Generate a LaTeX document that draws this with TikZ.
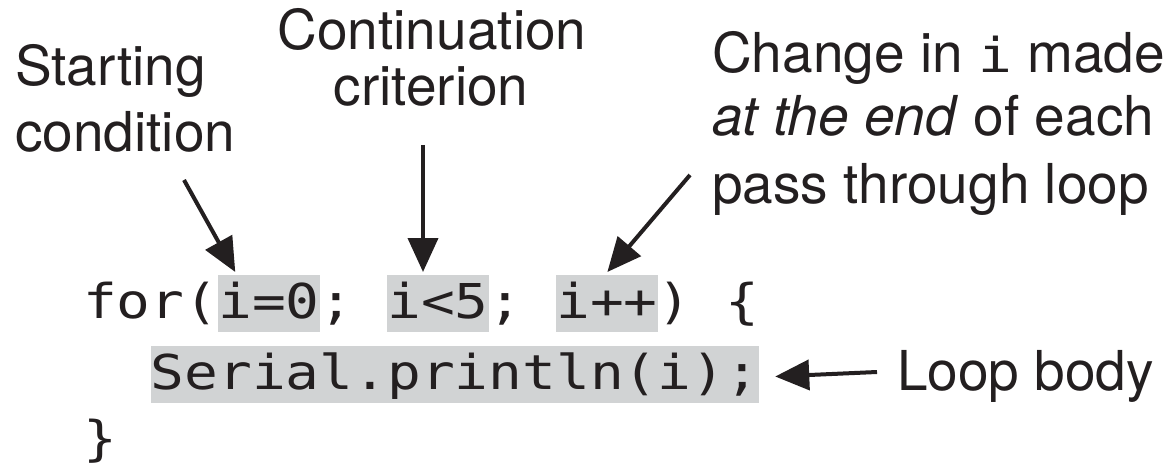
\documentclass[tikz,border=0pt]{standalone}
\usepackage{fontspec}
\setmainfont{TeX Gyre Heros}
\newfontfamily\codefont[FakeStretch=1.17]{DejaVu Sans Mono}
\usetikzlibrary{arrows.meta,calc}
\definecolor{hlgray}{HTML}{D1D3D4}
\definecolor{ink}{HTML}{231F20}
\newcommand{\monosp}{\phantom{x}}
\begin{document}
\begin{tikzpicture}[x=1pt,y=-1pt,
  code/.style={font=\codefont\fontsize{48}{48}\selectfont, text=ink, inner sep=0pt, outer sep=0pt,
    text height=43pt, text depth=14pt, anchor=base west},
  hl/.style={code, fill=hlgray},
  lab/.style={font=\fontsize{55}{60}\selectfont, text=ink, inner sep=0pt, anchor=base west},
  labc/.style={lab, anchor=base},
  arr/.style={draw=ink, line width=4pt, -{Triangle[length=34pt,width=30pt]}}]
\useasboundingbox (0,0) rectangle (1174,465);
% code
\node[code] (f1) at (83,318) {for(};
\node[hl] (h1) at (f1.base east) {i=0};
\node[code] (s1) at (h1.base east) {;\monosp};
\node[hl] (h2) at (s1.base east) {i<5};
\node[code] (s2) at (h2.base east) {;\monosp};
\node[hl] (h3) at (s2.base east) {i++};
\node[code] (e1) at (h3.base east) {)\monosp\{};
\node[code] (ind) at (83,389) {\monosp\monosp};
\node[hl] (ser) at (ind.base east) {Serial.println(i);};
\node[code] (rb) at (83,455) {\}};
% labels
\node[lab] (st1) at (15,86) {Starting};
\node[lab] (st2) at (15,152) {condition};
\node[labc] (co1) at (432,50) {Continuation};
\node[labc] (co2) at (431,106) {criterion};
\node[lab] (ch1) at (712,73) {Change in {\codefont\fontsize{48}{48}\selectfont i} made};
\node[lab] (ch2) at (712,136) {\textit{at the end} of each};
\node[lab] (ch3) at (712,203) {pass through loop};
\node[lab] (lb) at (897,390) {Loop body};
% connectors
\coordinate (t1) at (184,180);
\coordinate (t2) at (423,145);
\coordinate (t3) at (690,175);
\coordinate (t4) at (877,372);
\draw[arr] (t1) -- ($(h1.north west)+(17,-3)$);
\draw[arr] (t2) -- (t2 |- {$(h2.north)+(0,-3)$});
\draw[arr] (t3) -- ($(h3.north west)+(51,-3)$);
\draw[arr] (t4) -- ($(ser.east)+(16,2)$);
\end{tikzpicture}
\end{document}
